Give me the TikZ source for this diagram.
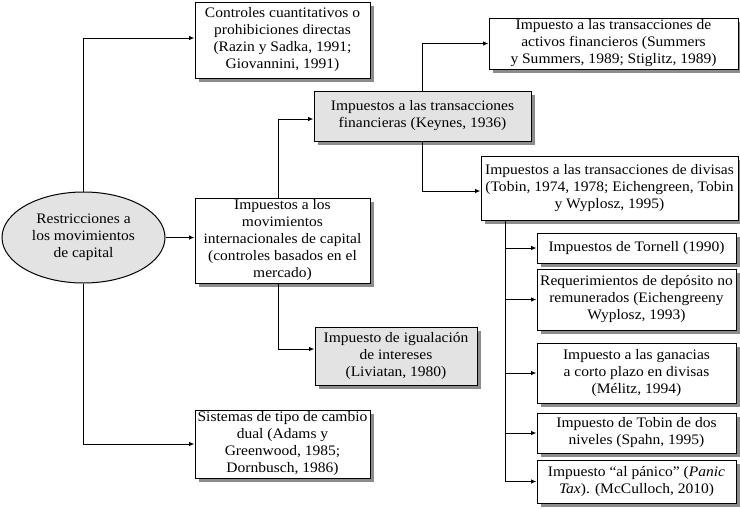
\documentclass[tikz,border=0pt]{standalone}
\usepackage{fontspec}
\setmainfont[FakeStretch=1.07]{Liberation Serif}
\usetikzlibrary{shapes.geometric,arrows.meta,calc}
\newcommand\fs{\fontsize{14.5}{17}\selectfont}
\definecolor{shadowc}{RGB}{140,140,140}
\tikzset{
  box/.style={draw=black, line width=1pt, fill=white, align=center, font=\fs, inner sep=1pt},
  gbox/.style={box, fill=black!11},
  shd/.style={fill=shadowc, draw=none},
  arr/.style={-{Latex[length=5.5pt,width=4.5pt]}, line width=1pt}
}
\newcommand\bx[7]{%
  \fill[shd] ({#2-#4/2+3.5},{#3-#5/2-3.5}) rectangle ({#2+#4/2+3.5},{#3+#5/2-3.5});
  \node[#6, minimum width=#4, minimum height=#5] (#1) at (#2,#3) {#7};}
\begin{document}
\begin{tikzpicture}[x=1pt,y=1pt]
\fill[white] (0,0) rectangle (740,-509);
\useasboundingbox (0,0) rectangle (740,-509);
\bx{c1}{282.5}{-40}{175}{76}{box}{Controles cuantitativos o\\prohibiciones directas\\(Razin y Sadka, 1991;\\Giovannini, 1991)}
\bx{c2}{613.5}{-43.5}{249}{51}{box}{Impuesto a las transacciones de\\activos financieros (Summers\\y Summers, 1989; Stiglitz, 1989)}
\bx{c3}{422.5}{-116}{217}{50}{gbox}{Impuestos a las transacciones\\financieras (Keynes, 1936)}
\bx{c4}{609.5}{-188}{257}{64}{box}{Impuestos a las transacciones de divisas\\(Tobin, 1974, 1978; Eichengreen, Tobin\\y Wyplosz, 1995)}
\node[ellipse, draw=black, line width=1pt, fill=black!11, align=center, font=\fs, inner sep=0pt, minimum width=163, minimum height=91] (ell) at (83.5,-237.5) {Restricciones a\\los movimientos\\de capital};
\bx{c6}{282.5}{-240.5}{175}{85}{box}{Impuestos a los\\movimientos\\internacionales de capital\\(controles basados en el\\mercado)}
\bx{c7}{396}{-356}{162}{58}{gbox}{Impuesto de igualación\\de intereses\\(Liviatan, 1980)}
\bx{c8}{282.5}{-444}{175}{68}{box}{Sistemas de tipo de cambio\\dual (Adams y\\Greenwood, 1985;\\Dornbusch, 1986)}
\bx{d1}{636.5}{-248}{199}{30}{box}{Impuestos de Tornell (1990)}
\bx{d2}{636.5}{-299.5}{199}{61}{box}{Requerimientos de depósito no\\remunerados (Eichengreeny\\Wyplosz, 1993)}
\bx{d3}{636.5}{-373}{199}{60}{box}{Impuesto a las ganacias\\a corto plazo en divisas\\(Mélitz, 1994)}
\bx{d4}{636.5}{-433}{199}{40}{box}{Impuesto de Tobin de dos\\niveles (Spahn, 1995)}
\bx{d5}{636.5}{-481.5}{199}{43}{box}{Impuesto “al pánico” (\textit{Panic}\\\textit{Tax}). (McCulloch, 2010)}
% connectors
\draw[arr] (ell.north) |- ($(c1.west)+(0,2)$);
\draw[arr] (ell.south) |- (c8.west);
\draw[arr] (ell.east) -- (ell.east -| c6.west);
\coordinate (c6t) at ($(c6.north)+(-4,0)$);
\coordinate (c6b) at ($(c6.south)+(-4,0)$);
\draw[arr] (c6t) |- ($(c3.west)+(0,-3)$);
\draw[arr] (c6b) |- ($(c7.west)+(0,7)$);
\draw[arr] (c3.north) |- (c2.west);
\draw[arr] (c3.south) |- ($(c4.west)+(0,-3)$);
\coordinate (bus) at ($(c4.south west)+(25,0)$);
\draw[arr] (bus) |- (d5.west);
\draw[arr] (bus |- d1.west) -- (d1.west);
\draw[arr] (bus |- d2.west) -- (d2.west);
\draw[arr] (bus |- d3.west) -- (d3.west);
\draw[arr] (bus |- d4.west) -- (d4.west);
\end{tikzpicture}
\end{document}
